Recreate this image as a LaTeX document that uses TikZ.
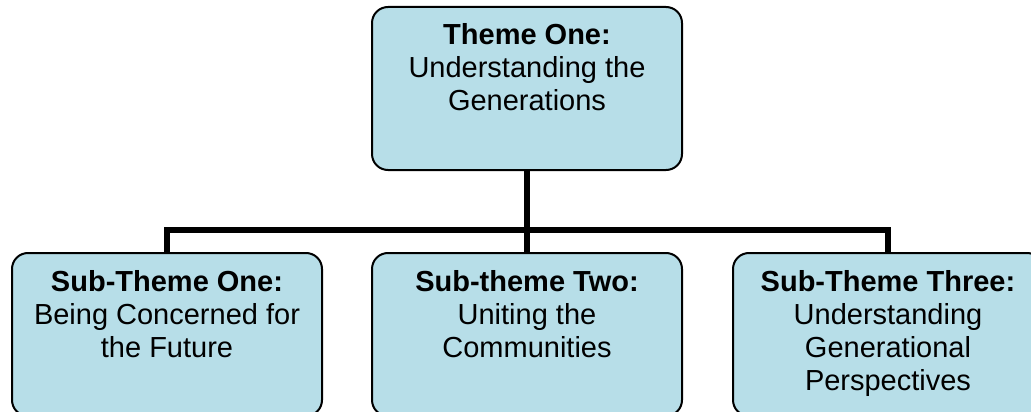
\documentclass[tikz,border=0pt]{standalone}
\usepackage{fontspec}
\setmainfont{Liberation Sans}
\definecolor{themefill}{HTML}{B7DEE8}
\tikzstyle{theme}=[draw, line width=2pt, rounded corners=16pt, fill=themefill, inner sep=0pt, minimum width=310pt, minimum height=163pt]
\tikzstyle{link}=[line width=5.5pt]
\newcommand{\themetext}[2]{\parbox[t][163pt][t]{304pt}{\centering\fontsize{29}{33}\selectfont\rule{0pt}{38pt}\textbf{#1}\\#2}}

\begin{document}
\begin{tikzpicture}[x=1pt, y=-1pt]
\useasboundingbox (0, 0) rectangle (1031, 412);
\node[theme] at (527, 88.5) (top) {\themetext{Theme One:}{Understanding the\\Generations}};
\node[theme] at (167, 334.5) (sub1) {\themetext{Sub-Theme One:}{Being Concerned for\\the Future}};
\node[theme] at (527, 334.5) (sub2) {\themetext{Sub-theme Two:}{Uniting the\\Communities}};
\node[theme] at (888, 334.5) (sub3) {\themetext{Sub-Theme Three:}{Understanding\\Generational\\Perspectives}};
\coordinate (bus) at (527, 230);
\draw[link] (top.south) -- (bus);
\draw[link] (sub1.north) |- (bus) -| (sub3.north);
\draw[link] (bus) -- (sub2.north);
\end{tikzpicture}
\end{document}
